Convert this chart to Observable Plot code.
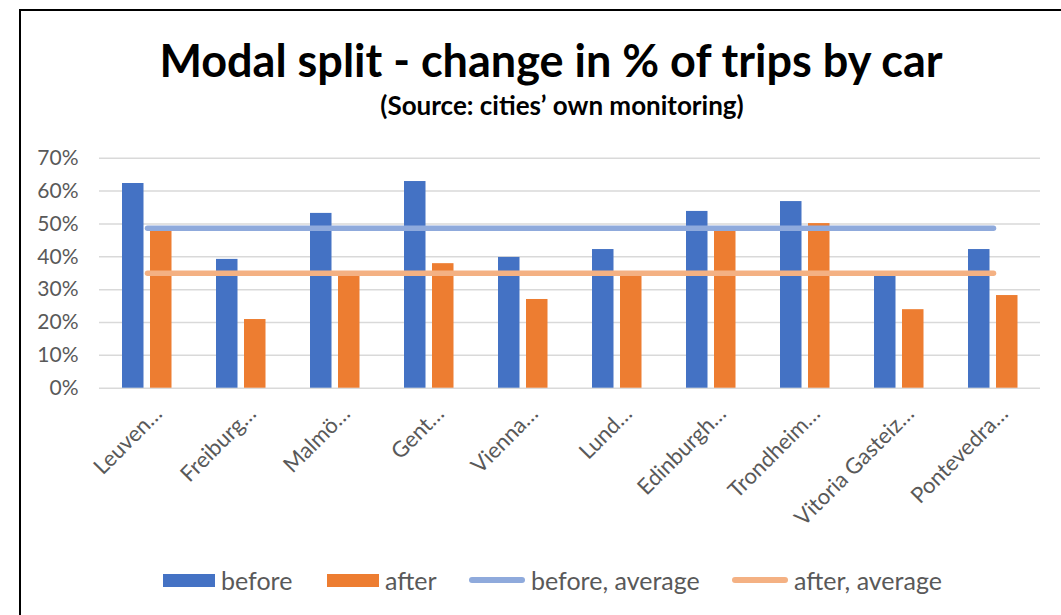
<!DOCTYPE html>
<html>
<head>
<meta charset="utf-8">
<script src="https://cdn.jsdelivr.net/npm/d3@7"></script>
<script src="https://cdn.jsdelivr.net/npm/@observablehq/plot@0.6"></script>
<style>
  html, body { margin: 0; padding: 0; background: #fff; }
  body { width: 1061px; height: 615px; position: relative; overflow: hidden; font-family: Lato, "Open Sans", sans-serif; }
  #frame { position: absolute; left: 19px; top: 9px; width: 1100px; height: 700px; border-left: 2px solid #000; border-top: 2px solid #000; }
  #title { position: absolute; left: 0; width: 1102px; top: 38px; text-align: center; font-weight: 700; font-size: 45px; line-height: 1; color: #000; white-space: nowrap; }
  #subtitle { position: absolute; left: 0; width: 1124px; top: 92px; text-align: center; font-weight: 700; font-size: 26px; line-height: 1; color: #000; white-space: nowrap; }
  #chart { position: absolute; left: 0; top: 130px; }
  .item { position: absolute; top: 568px; display: flex; align-items: center; height: 24px; gap: 6px; font-size: 25px; line-height: 1; color: #595959; white-space: nowrap; }
  .sw { width: 52px; height: 13px; }
  .ln { width: 56px; height: 6px; border-radius: 3px; }
</style>
</head>
<body>
<div id="frame"></div>
<div id="title">Modal split - change in % of trips by car</div>
<div id="subtitle">(Source: cities’ own monitoring)</div>
<div id="chart"></div>
<div id="legend"></div>
<script>
// Data (share of trips by car, %)
const cities = ["Leuven…", "Freiburg…", "Malmö…", "Gent…", "Vienna…", "Lund…", "Edinburgh…", "Trondheim…", "Vitoria Gasteiz…", "Pontevedra…"];
const before = [62.3, 39.2, 53.2, 62.9, 39.8, 42.2, 53.8, 56.8, 35.0, 42.2];
const after  = [48.0, 20.9, 35.0, 37.9, 27.0, 35.0, 48.0, 50.1, 23.9, 28.2];
const beforeAverage = 48.7;
const afterAverage = 35.0;
const yTicks = [0, 10, 20, 30, 40, 50, 60, 70];
const seriesNames = ["before", "after", "before, average", "after, average"];
const seriesColors = ["#4472c4", "#ed7d31", "#8faadc", "#f4b183"];

const rows = cities.map((city, i) => ({city, before: before[i], after: after[i], beforeAverage, afterAverage}));

const chart = Plot.plot({
  width: 1061,
  height: 420,
  marginLeft: 99,
  marginRight: 21,
  marginTop: 27.7,
  marginBottom: 162.3,
  style: {fontFamily: "Lato, 'Open Sans', sans-serif", fontSize: "21px", color: "#595959", background: "transparent", overflow: "visible"},
  x: {domain: cities, padding: 0, label: null, axis: null},
  y: {domain: [0, 70], label: null, ticks: yTicks, tickSize: 0, tickPadding: 21, tickFormat: d => d + "%"},
  marks: [
    Plot.ruleY(yTicks, {stroke: "#d9d9d9", strokeWidth: 1.5}),
    Plot.barY(rows, {x: "city", y: "before", fill: seriesColors[0], insetLeft: 22, insetRight: 50.5}),
    Plot.barY(rows, {x: "city", y: "after", fill: seriesColors[1], insetLeft: 50, insetRight: 22.5}),
    Plot.lineY(rows, {x: "city", y: "beforeAverage", stroke: seriesColors[2], strokeWidth: 5.5, strokeLinecap: "round"}),
    Plot.lineY(rows, {x: "city", y: "afterAverage", stroke: seriesColors[3], strokeWidth: 5.5, strokeLinecap: "round"}),
    Plot.text(cities, {x: d => d, text: d => d, frameAnchor: "bottom", rotate: -45, textAnchor: "end", lineAnchor: "middle", dx: 11, dy: 22, fontSize: 22, fill: "#595959"})
  ]
});
document.getElementById("chart").appendChild(chart);

// Legend
const legendX = [163, 327, 469, 732];
const legend = document.getElementById("legend");
seriesNames.forEach((name, i) => {
  const item = document.createElement("div");
  item.className = "item";
  item.style.left = legendX[i] + "px";
  const sw = document.createElement("div");
  sw.className = i < 2 ? "sw" : "ln";
  sw.style.background = seriesColors[i];
  const label = document.createElement("span");
  label.textContent = name;
  item.appendChild(sw);
  item.appendChild(label);
  legend.appendChild(item);
});
</script>
</body>
</html>
